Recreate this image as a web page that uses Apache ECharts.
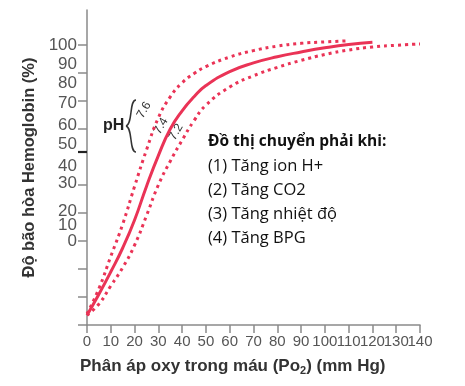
<!DOCTYPE html>
<html>
<head>
<meta charset="utf-8">
<script src="https://cdn.jsdelivr.net/npm/echarts@6/dist/echarts.min.js"></script>
<style>html,body{margin:0;padding:0;background:#fff}#c{width:465px;height:386px}</style>
</head>
<body>
<div id="c"></div>
<script>
// ---- data ----
const po2All = [0,5,10,15,20,25,30,35,40,45,50,60,70,80,90,100,110,120,130,140];
const satPH76 = [4,13,24.5,36,49.5,62.5,74,81.5,86.5,89.8,92.3,95.7,98,99.6,100.6,101.1,101.5];
const satPH74 = [3.5,11,19,27.5,37.5,49.5,60.5,70,76.5,81.5,85.5,90.5,93.6,95.8,97.5,99,100.2,101];
const satPH72 = [3.5,7.5,14,20.5,28.5,39,50,58.5,66,73,78.5,85,89,92,94.5,96.6,98.2,99.3,99.9,100.4];
const xTickValues = [0,10,20,30,40,50,60,70,80,90,100,110,120,130,140];
const yTickValues = [0,10,20,30,40,50,70,80,90,100];
const yDarkTick = [62];
const yTickLabels = ['0','10','20','30','40','50','60','70','80','90','100'];
// layout: where each y tick label sits on the axis scale
const yLabelLayout = [29.75,35.5,40.5,50.6,56.5,64.6,71.4,79.3,86.3,93.2,100];
const notes = ['(1) Tăng ion H+','(2) Tăng CO2','(3) Tăng nhiệt độ','(4) Tăng BPG'];

const pair = (ys) => ys.map((y,i)=>[po2All[i], y]);
const red = '#ea3356';
const axisGray = '#8a8a8a';
const labelFont = 'Liberation Sans';

// split labels over two overlaid axes so close labels are not auto-hidden
const evens = (arr) => arr.filter((_,i)=>i%2===0);
const odds = (arr) => arr.filter((_,i)=>i%2===1);
const yLabelFmt = (v)=>{let b=0;for(let i=0;i<yLabelLayout.length;i++){if(Math.abs(yLabelLayout[i]-v)<Math.abs(yLabelLayout[b]-v))b=i;}return yTickLabels[b];};

const chart = echarts.init(document.getElementById('c'));
const braceStyle = {stroke:'#333', lineWidth:1.5, fill:null};
const graphics = [
  {type:'bezierCurve', shape:{x1:136,y1:100,cpx1:129,cpy1:100,cpx2:133,cpy2:124,x2:126,y2:126}, style:braceStyle},
  {type:'bezierCurve', shape:{x1:126,y1:126,cpx1:133,cpy1:128,cpx2:129,cpy2:152,x2:136,y2:152}, style:braceStyle},
  {type:'text', x:103, y:126, style:{text:'pH', font:'bold 16px "Liberation Sans", Arial, sans-serif', fill:'#222', align:'left', verticalAlign:'middle'}},
  {type:'text', x:144, y:110, rotation:Math.PI/3, style:{text:'7.6', font:'12px "Liberation Sans", Arial, sans-serif', fill:'#333', align:'center', verticalAlign:'middle'}},
  {type:'text', x:161, y:126, rotation:Math.PI/3, style:{text:'7.4', font:'12px "Liberation Sans", Arial, sans-serif', fill:'#333', align:'center', verticalAlign:'middle'}},
  {type:'text', x:176, y:132, rotation:Math.PI/3, style:{text:'7.2', font:'12px "Liberation Sans", Arial, sans-serif', fill:'#333', align:'center', verticalAlign:'middle'}},
  {type:'text', x:208, y:142, style:{text:'Đồ thị chuyển phải khi:', font:'bold 15.5px "Open Sans", sans-serif', fill:'#111', align:'left', verticalAlign:'middle'}},
  {type:'text', x:80, y:366, style:{text:'Phân áp oxy trong máu (Po{s|2}) (mm Hg)', font:'bold 17px "Liberation Sans", Arial, sans-serif', fill:'#333', align:'left', verticalAlign:'middle',
     rich:{s:{fontSize:11, fontWeight:'bold', fill:'#333', padding:[9,0,0,0], fontFamily:'Liberation Sans'}}}}
];
notes.forEach((t,i)=>graphics.push({type:'text', x:208, y:166+i*24, style:{text:t, font:'16.5px "Open Sans", sans-serif', fill:'#111', align:'left', verticalAlign:'middle'}}));

const xLabelStyle = {color:'#555', fontSize:15, fontFamily:labelFont, margin:9, showMinLabel:true, showMaxLabel:true, hideOverlap:false};
const yLabelStyle = {color:'#555', fontSize:17, fontFamily:labelFont, margin:10, showMinLabel:true, showMaxLabel:true, hideOverlap:false, formatter:yLabelFmt};

chart.setOption({
  animation:false,
  grid:{left:87, right:45, top:10, bottom:61},
  xAxis:[
    {type:'value', min:0, max:140, position:'bottom',
      axisLine:{lineStyle:{color:axisGray, width:1.5}},
      axisTick:{length:8, customValues:xTickValues, lineStyle:{color:axisGray, width:1.5}},
      axisLabel:Object.assign({customValues:evens(xTickValues)}, xLabelStyle),
      splitLine:{show:false}},
    {type:'value', min:0, max:140, position:'bottom', offset:0,
      axisLine:{show:false}, axisTick:{show:false},
      axisLabel:Object.assign({customValues:odds(xTickValues)}, xLabelStyle),
      splitLine:{show:false}}
  ],
  yAxis:[
    {type:'value', min:0, max:112.5, position:'left',
      name:'Độ bão hòa Hemoglobin (%)', nameLocation:'middle', nameGap:49,
      nameTextStyle:{fontSize:16.5, fontWeight:'bold', color:'#333', fontFamily:labelFont},
      axisLine:{show:true, lineStyle:{color:axisGray, width:1.5}},
      axisTick:{show:true, length:9, customValues:yTickValues, lineStyle:{color:axisGray, width:1.5}},
      axisLabel:Object.assign({customValues:evens(yLabelLayout)}, yLabelStyle),
      splitLine:{show:false}},
    {type:'value', min:0, max:112.5, position:'left', offset:0,
      axisLine:{show:false},
      axisTick:{show:true, length:9, customValues:yDarkTick, lineStyle:{color:'#222', width:2.2}},
      axisLabel:Object.assign({customValues:odds(yLabelLayout)}, yLabelStyle),
      splitLine:{show:false}}
  ],
  series:[
    {name:'pH 7.6', type:'line', data:pair(satPH76), smooth:true, symbol:'none',
      lineStyle:{color:red, width:3, type:[3,4], cap:'butt'}},
    {name:'pH 7.4', type:'line', data:pair(satPH74), smooth:true, symbol:'none',
      lineStyle:{color:red, width:3}},
    {name:'pH 7.2', type:'line', data:pair(satPH72), smooth:true, symbol:'none',
      lineStyle:{color:red, width:3, type:[3,4], cap:'butt'}}
  ],
  graphic:graphics
});
</script>
</body>
</html>
